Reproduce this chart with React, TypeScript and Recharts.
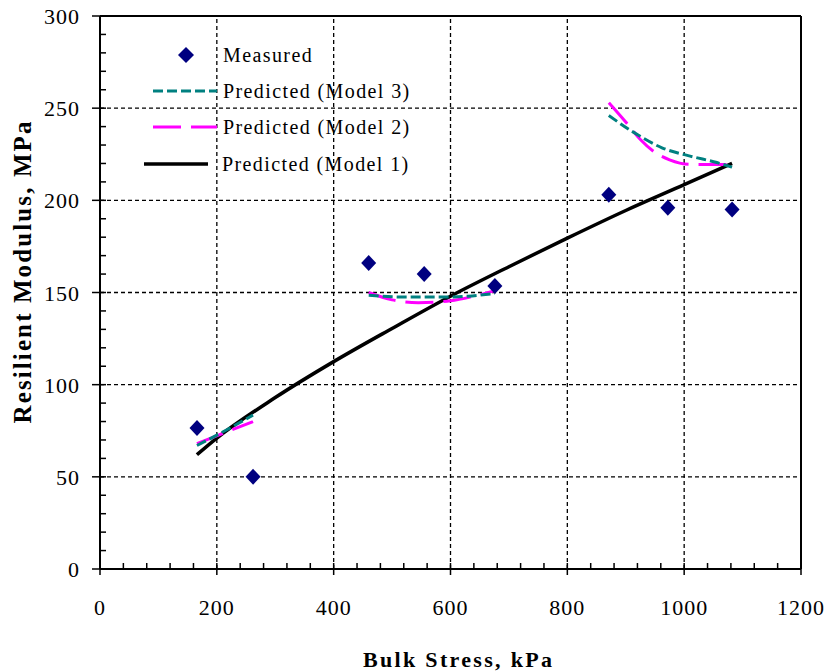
import {
  ComposedChart, Line, Scatter, XAxis, YAxis,
  ReferenceLine, Legend
} from 'recharts'

const FONT = "'Times New Roman', 'Liberation Serif', serif"

// measured points
const measuredX = [166, 262, 460, 555, 676, 871, 972, 1082]
const measuredY = [76.5, 50, 166, 160, 153.5, 203, 196, 195]

// Model 1 (solid black), one continuous curve
const model1X = [166, 200, 300, 400, 500, 600, 700, 800, 900, 1000, 1082]
const model1Y = [62, 71, 93, 112.5, 130.5, 148, 164, 179.5, 194.5, 208.5, 220]

// Model 2 (magenta long dash), three separate pieces
const model2X = [
  [166, 214, 262],
  [460, 500, 545, 600, 640, 676],
  [871, 900, 925, 950, 975, 1010, 1082],
]
const model2Y = [
  [68, 74, 80],
  [150, 146, 144.5, 145.5, 148, 151],
  [253, 242.5, 233, 226, 222, 219.5, 219.5],
]

// Model 3 (teal short dash), three separate pieces
const model3X = [
  [166, 214, 262],
  [460, 520, 580, 630, 676],
  [871, 913, 962, 1010, 1056, 1082],
]
const model3Y = [
  [67, 75, 83.5],
  [148.5, 147.5, 147.5, 148, 149.5],
  [246, 237, 228.5, 224, 220.5, 218],
]

const xGrid = [200, 400, 600, 800, 1000]
const yGrid = [50, 100, 150, 200, 250]
const xTicks = Array.from({ length: 31 }, (_, i) => i * 40)
const yTicks = Array.from({ length: 31 }, (_, i) => i * 10)

const zip = (xs: number[], ys: number[]) => xs.map((x, i) => ({ x, y: ys[i] }))

const measured = zip(measuredX, measuredY)
const model1 = zip(model1X, model1Y)
const model2 = model2X.map((xs, i) => zip(xs, model2Y[i]))
const model3 = model3X.map((xs, i) => zip(xs, model3Y[i]))

function XTick({ x, y, payload }: any) {
  const v = payload.value
  const major = v % 200 === 0
  return (
    <g>
      <line x1={x} x2={x} y1={y - 6} y2={major ? y + 6 : y} stroke="#000" strokeWidth={1.5} />
      {major && (
        <text x={x} y={y + 46} textAnchor="middle" fontSize={22} letterSpacing={1}
          fontFamily={FONT} fill="#000">{v}</text>
      )}
    </g>
  )
}

function YTick({ x, y, payload }: any) {
  const v = payload.value
  const major = v % 50 === 0
  return (
    <g>
      <line x1={major ? x - 8 : x} x2={x + 6} y1={y} y2={y} stroke="#000" strokeWidth={1.5} />
      {major && (
        <text x={x - 20} y={y + 8} textAnchor="end" fontSize={22} letterSpacing={1}
          fontFamily={FONT} fill="#000">{v}</text>
      )}
    </g>
  )
}

function Diamond({ cx, cy }: any) {
  return <polygon points={`${cx},${cy - 8} ${cx + 7.5},${cy} ${cx},${cy + 8} ${cx - 7.5},${cy}`} fill="#000080" />
}

function LegendBox() {
  const row = { display: 'flex', alignItems: 'center', height: 36 } as const
  const label = { fontFamily: FONT, fontSize: 20, letterSpacing: 1.4, color: '#000', marginLeft: 4, lineHeight: '20px' }
  return (
    <div>
      <div style={row}>
        <svg width={76} height={20}><polygon points="43,2 51,10 43,18 35,10" fill="#000080" /></svg>
        <span style={label}>Measured</span>
      </div>
      <div style={row}>
        <svg width={76} height={20}><line x1={10} x2={74} y1={10} y2={10} stroke="#008080" strokeWidth={3} strokeDasharray="10 4" /></svg>
        <span style={label}>Predicted (Model 3)</span>
      </div>
      <div style={row}>
        <svg width={76} height={20}><line x1={10} x2={74} y1={10} y2={10} stroke="#ff00ff" strokeWidth={3} strokeDasharray="28 10" /></svg>
        <span style={label}>Predicted (Model 2)</span>
      </div>
      <div style={{ ...row, height: 38 }}>
        <svg width={76} height={20}><line x1={1} x2={65} y1={10} y2={10} stroke="#000" strokeWidth={3.5} /></svg>
        <span style={{ ...label, marginLeft: 3 }}>Predicted (Model 1)</span>
      </div>
    </div>
  )
}

export default function App() {
  return (
    <div style={{ width: 832, height: 671, margin: '-8px 0 0 -8px' }}>
      <ComposedChart width={832} height={671} margin={{ top: 16, right: 31, bottom: 42, left: 40 }}>
        <XAxis
          type="number"
          dataKey="x"
          domain={[0, 1200]}
          ticks={xTicks}
          interval={0}
          height={60}
          tickSize={0}
          tickMargin={0}
          tickLine={false}
          axisLine={{ stroke: '#000', strokeWidth: 2 }}
          tick={<XTick />}
          allowDataOverflow
          label={{
            content: ({ viewBox }: any) => (
              <text x={viewBox.x + viewBox.width / 2 + 7} y={viewBox.y + 98} textAnchor="middle"
                fontSize={22} fontWeight="bold" fontFamily={FONT} fill="#000"
                textLength={189} lengthAdjust="spacing">Bulk Stress, kPa</text>
            ),
          }}
        />
        <YAxis
          type="number"
          dataKey="y"
          domain={[0, 300]}
          ticks={yTicks}
          interval={0}
          width={60}
          tickSize={0}
          tickMargin={0}
          tickLine={false}
          axisLine={{ stroke: '#000', strokeWidth: 2 }}
          tick={<YTick />}
          allowDataOverflow
          label={{
            content: ({ viewBox }: any) => {
              const cx = 31
              const cy = viewBox.y + viewBox.height / 2 - 20
              return (
                <text x={cx} y={cy} transform={`rotate(-90, ${cx}, ${cy})`} textAnchor="middle"
                  fontSize={25} fontWeight="bold" fontFamily={FONT} fill="#000"
                  textLength={302} lengthAdjust="spacing">Resilient Modulus, MPa</text>
              )
            },
          }}
        />

        {/* dashed grid at the major ticks */}
        {xGrid.map(v => (
          <ReferenceLine key={`gx-${v}`} x={v} stroke="#000" strokeWidth={1.3} strokeDasharray="4 3" />
        ))}
        {yGrid.map(v => (
          <ReferenceLine key={`gy-${v}`} y={v} stroke="#000" strokeWidth={1.3} strokeDasharray="4 3" />
        ))}
        <ReferenceLine y={300} stroke="#000" strokeWidth={2} />
        <ReferenceLine x={1200} stroke="#000" strokeWidth={2} />

        <Line data={model1} dataKey="y" type="monotone" stroke="#000" strokeWidth={3.5} dot={false} isAnimationActive={false} />
        {model2.map((seg, i) => (
          <Line key={`m2-${i}`} data={seg} dataKey="y" type="monotone" stroke="#ff00ff" strokeWidth={3}
            strokeDasharray="28 10" dot={false} isAnimationActive={false} />
        ))}
        {model3.map((seg, i) => (
          <Line key={`m3-${i}`} data={seg} dataKey="y" type="monotone" stroke="#008080" strokeWidth={3}
            strokeDasharray="10 4" dot={false} isAnimationActive={false} />
        ))}
        <Scatter data={measured} dataKey="y" shape={<Diamond />} isAnimationActive={false} />

        <Legend layout="vertical" align="center" verticalAlign="middle" content={<LegendBox />}
          wrapperStyle={{ left: 143, top: 37, width: 320 }} />
      </ComposedChart>
    </div>
  )
}
